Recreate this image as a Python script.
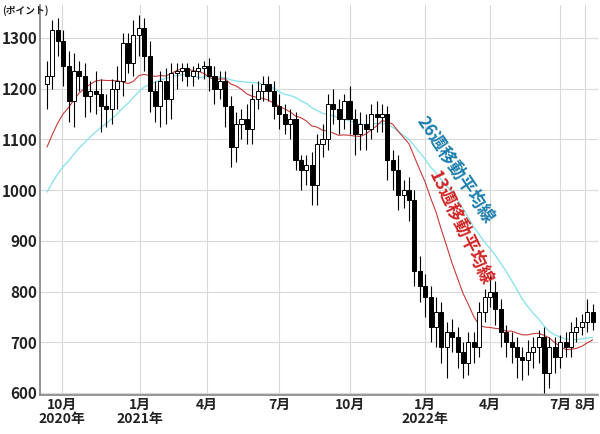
import numpy as np, pandas as pd, matplotlib
matplotlib.use("Agg")
import matplotlib.pyplot as plt, seaborn as sns

pre_close = [830,850,870,880,890,900,910,920,930,940,950,960,970,
             990,1000,1010,1020,1030,1050,1070,1090,1110,1140,1170,1200]
close = [1225,1315,1295,1245,1175,1235,1225,1185,1195,1190,1165,1160,
         1200,1215,1290,1250,1305,1320,1265,1195,1165,1215,1180,1230,1235,1240,
         1225,1235,1240,1245,1225,1200,1215,1165,1085,1130,1140,1120,
         1180,1195,1210,1195,1165,1150,1130,1140,1060,1040,1050,1010,1090,
         1100,1170,1160,1140,1175,1140,1110,1130,1120,1150,1145,1150,1060,
         1040,990,1000,980,840,810,790,730,760,690,720,710,680,660,700,690,
         760,790,800,765,720,700,690,670,665,680,690,710,640,690,670,700,
         690,720,730,740,760,740]
first_open = 1210
up = [30,20,25,20,30,35,20,25,20,40,30,25,20,30,20,20,30,25,20,30,20,20,25,20,15,10,
      10,10,10,10,15,20,20,20,20,25,20,30,30,20,15,15,20,25,20,20,15,10,20,25,20,
      30,20,30,20,15,30,20,25,20,20,25,20,15,20,30,20,25,20,30,25,20,30,20,20,25,
      20,20,20,20,20,15,30,20,20,15,20,20,20,25,20,15,20,20,20,15,20,20,20,15,25,15]
dn = [50,25,30,40,40,50,30,40,30,40,50,35,30,40,30,20,25,40,30,40,30,40,50,40,30,20,
      20,20,15,20,30,30,20,40,40,30,30,30,30,20,20,20,25,30,20,30,20,40,30,40,40,
      25,20,30,30,20,30,40,30,40,20,30,30,40,40,30,25,40,30,30,40,30,40,30,60,30,
      30,30,25,30,20,20,20,30,30,30,30,40,40,30,30,30,40,30,30,20,20,20,20,15,20,15]
tick_pos = [2.8, 17.2, 29.6, 43, 56, 70, 82, 95, 99.6]
tick_lab = ["10月\n2020年", "1月\n2021年", "4月", "7月", "10月", "1月\n2022年", "4月", "7月", "8月"]

sns.set_theme(style="whitegrid")
plt.rcParams['font.family'] = ['Noto Sans CJK JP', 'DejaVu Sans']

n = len(close)
opens = [first_open] + close[:-1]
allc = pd.Series(pre_close + close)
ma13 = allc.rolling(13).mean().iloc[len(pre_close):].to_numpy()
ma26 = allc.rolling(26, min_periods=26).mean().iloc[len(pre_close):].to_numpy()
idx = np.arange(n)
df = pd.DataFrame({"i": idx, "o": opens, "c": close, "up": up, "dn": dn, "m13": ma13, "m26": ma26})
df["hi"] = df[["o", "c"]].max(axis=1) + df.up
df["lo"] = df[["o", "c"]].min(axis=1) - df.dn

fig = plt.figure(figsize=(6, 4.34), dpi=100)
ax = fig.add_axes([40/600, 1-395/434, 558/600, 390/434])
ax.vlines(df.i, df.lo, df.hi, color="black", lw=0.8, zorder=2)
bull = df.c >= df.o
ax.bar(df.i[bull], (df.c - df.o)[bull].clip(lower=3), bottom=df.o[bull], width=0.75,
       color="white", edgecolor="black", lw=0.7, zorder=3)
ax.bar(df.i[~bull], (df.o - df.c)[~bull], bottom=df.c[~bull], width=0.75,
       color="black", edgecolor="black", lw=0.7, zorder=3)
sns.lineplot(data=df, x="i", y="m26", ax=ax, color="#8ee3ee", lw=1, zorder=1)
sns.lineplot(data=df, x="i", y="m13", ax=ax, color="#c83a3a", lw=0.8, zorder=1)

ax.set_xlim(-1.3, 102)
ax.set_ylim(596, 1365)
ax.set_yticks(range(600, 1301, 100))
ax.set_yticklabels([str(v) for v in range(600, 1301, 100)], fontweight="bold", fontsize=11, color="#222")
ax.set_xticks(tick_pos)
ax.set_xticklabels(tick_lab, fontsize=10, fontweight="bold", color="#222", linespacing=1.0)
ax.tick_params(axis="both", length=0, pad=2)
ax.set_xlabel(""); ax.set_ylabel("")
ax.grid(color="#d8d8d8", lw=0.8)
for s in ax.spines.values():
    s.set_visible(False)
ax.spines["left"].set_visible(True); ax.spines["left"].set_color("#888")
ax.spines["bottom"].set_visible(True); ax.spines["bottom"].set_color("#888")
fig.text(0.003, 0.968, "(ポイント)", fontsize=7, fontweight="bold", color="#222")
ax.text(75.5, 1040, "26週移動平均線", rotation=-56, color="#1c7fae", fontsize=12.5,
        fontweight="bold", ha="center", va="center")
ax.text(76.5, 925, "13週移動平均線", rotation=-64, color="#d02525", fontsize=12.5,
        fontweight="bold", ha="center", va="center")
fig.savefig("out.png", dpi=100)
